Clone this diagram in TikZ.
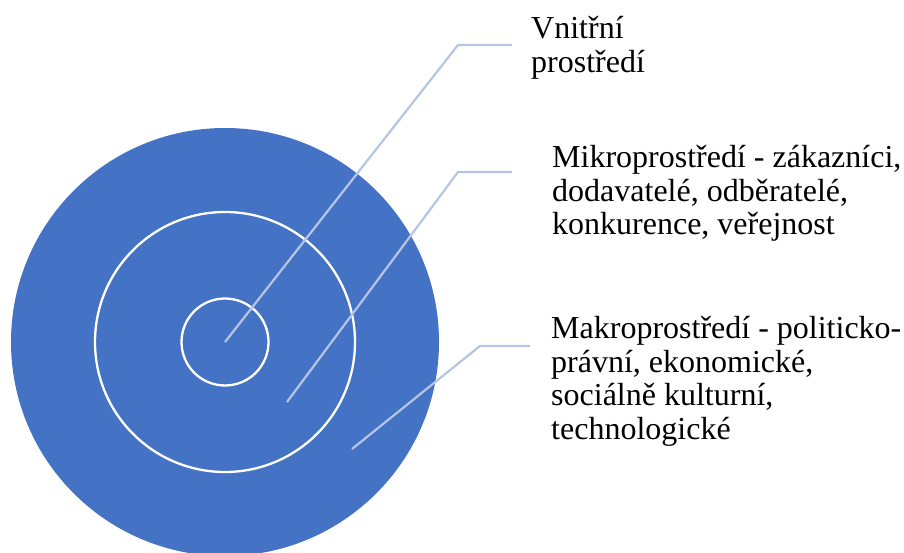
\documentclass[tikz,border=0pt]{standalone}
\usepackage{fontspec}
\setmainfont{Liberation Serif}
\usepackage{tikz}
\usetikzlibrary{positioning,calc}
\definecolor{modra}{RGB}{68,114,196}
\definecolor{vodic}{RGB}{182,197,228}

\begin{document}
\begin{tikzpicture}[x=1pt,y=-1pt,
    kruh/.style={circle,draw=white,line width=2.3pt,inner sep=0pt},
    vodicka/.style={vodic,line width=2.2pt},
    popis/.style={anchor=base west,align=left,inner sep=0pt,
                  font=\fontsize{32}{33.5}\selectfont}]
      \useasboundingbox (0,0) rectangle (904,553);
      \fill[modra] (225,342) circle[radius=214pt];
      \node[kruh,minimum size=260pt] (stred) at (225,342) {};
      \node[kruh,minimum size=87pt] (jadro) at (225,342) {};
      % popisky
      \node[popis] (vnitrni) at (531,72.5) {Vnitřní\\prostředí};
      \node[popis] (mikro) at (552,235) {Mikroprostředí - zákazníci,\\dodavatelé, odběratelé,\\konkurence, veřejnost};
      \node[popis] (makro) at (551,439) {Makroprostředí - politicko-\\právní, ekonomické,\\sociálně kulturní,\\technologické};
      % vodicí čáry
      \coordinate (a1) at (225,342);
      \coordinate (a2) at (287,402);
      \coordinate (a3) at (352,449);
      \draw[vodicka] (a1) -- (458,45) -- (512,45);
      \draw[vodicka] (a2) -- (458,172) -- (512,172);
      \draw[vodicka] (a3) -- (480,346) -- (530,346);
    \end{tikzpicture}
\end{document}
